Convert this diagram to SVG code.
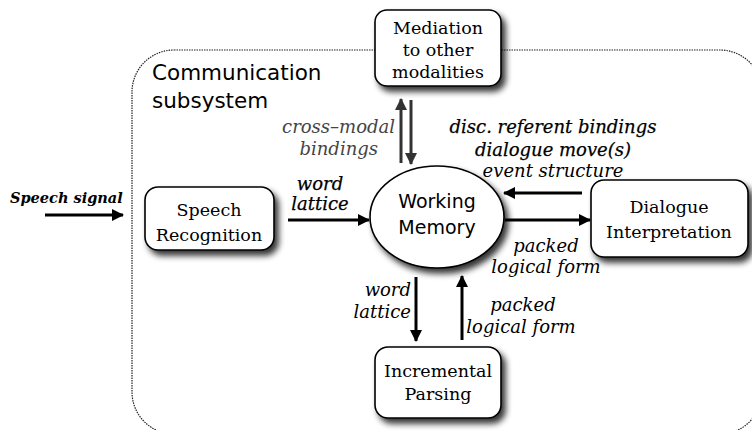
<svg xmlns="http://www.w3.org/2000/svg" width="752" height="430" viewBox="0 0 752 430">
<defs>
<filter id="sh" x="-20%" y="-20%" width="150%" height="150%">
<feGaussianBlur in="SourceAlpha" stdDeviation="3"/>
<feOffset dx="4" dy="5" result="b"/>
<feComponentTransfer><feFuncA type="linear" slope="0.8"/></feComponentTransfer>
<feMerge><feMergeNode/><feMergeNode in="SourceGraphic"/></feMerge>
</filter>
<marker id="ah" viewBox="0 0 12 12" refX="11" refY="6" markerWidth="12" markerHeight="12" markerUnits="userSpaceOnUse" orient="auto">
<path d="M0,0 L12,6 L0,12 z" fill="#000"/>
</marker>
<marker id="ahg" viewBox="0 0 12 12" refX="11" refY="6" markerWidth="12" markerHeight="12" markerUnits="userSpaceOnUse" orient="auto">
<path d="M0,0 L12,6 L0,12 z" fill="#333"/>
</marker>
</defs>
<style>
.box{fill:#fff;stroke:#000;stroke-width:1.6}
.nt{font-family:"DejaVu Serif","Liberation Serif",serif;font-size:17.5px;fill:#000;text-anchor:middle}
.st{font-family:"DejaVu Sans","Liberation Sans",sans-serif;font-size:19px;fill:#000}
.lb{font-family:"DejaVu Serif","Liberation Serif",serif;font-size:18px;font-style:italic;fill:#000}
.sb{stroke:#000;stroke-width:0.25}
.ar{stroke:#000;stroke-width:3;fill:none;marker-end:url(#ah)}
.arg{stroke:#333;stroke-width:3;fill:none;marker-end:url(#ahg)}
</style>
<rect width="752" height="430" fill="#fff"/>
<g id="subsystem">
<rect x="132" y="50" width="630" height="384" rx="42" fill="none" stroke="#222" stroke-width="1.2" stroke-dasharray="1.5 1"/>
<text class="st" x="152" y="80" style="font-size:21.5px">Communication</text>
<text class="st" x="152" y="108" style="font-size:21.5px">subsystem</text>
</g>
<g id="mediation">
<rect class="box" x="375" y="10" width="126" height="76" rx="12" filter="url(#sh)"/>
<text class="nt" x="438" y="34">Mediation</text>
<text class="nt" x="438" y="56">to other</text>
<text class="nt" x="438" y="78">modalities</text>
</g>
<g id="working-memory">
<ellipse cx="437" cy="217" rx="67" ry="51" fill="#fff" stroke="#000" stroke-width="1.6" filter="url(#sh)"/>
<text class="st" x="437" y="208" text-anchor="middle">Working</text>
<text class="st" x="437" y="234" text-anchor="middle">Memory</text>
</g>
<g id="speech-recognition">
<rect class="box" x="145" y="187" width="129" height="63" rx="13" filter="url(#sh)"/>
<text class="nt" x="209" y="216">Speech</text>
<text class="nt" x="209" y="241">Recognition</text>
</g>
<g id="dialogue-interpretation">
<rect class="box" x="591" y="180" width="157" height="77" rx="13" filter="url(#sh)"/>
<text class="nt" x="669" y="213">Dialogue</text>
<text class="nt" x="669" y="238">Interpretation</text>
</g>
<g id="incremental-parsing">
<rect class="box" x="375" y="347" width="126" height="71" rx="13" filter="url(#sh)"/>
<text class="nt" x="438" y="377">Incremental</text>
<text class="nt" x="438" y="400">Parsing</text>
</g>
<g id="connectors">
<line class="ar" x1="45" y1="215" x2="123" y2="215"/>
<line class="ar" x1="288" y1="220" x2="369" y2="220"/>
<line class="arg" x1="401" y1="163" x2="401" y2="99"/>
<line class="arg" x1="411" y1="100" x2="411" y2="164"/>
<line class="ar" x1="582" y1="193" x2="504" y2="193"/>
<line class="ar" x1="505" y1="220" x2="590" y2="220"/>
<line class="ar" x1="416" y1="277" x2="416" y2="341"/>
<line class="ar" x1="462" y1="340" x2="462" y2="276"/>
</g>
<g id="labels">
<text class="lb" x="10" y="203" style="font-weight:bold;font-size:14.5px">Speech signal</text>
<text class="lb sb" x="320" y="190" text-anchor="middle">word</text>
<text class="lb sb" x="320" y="210" text-anchor="middle">lattice</text>
<text class="lb" x="395" y="133" text-anchor="end" style="fill:#444">cross–modal</text>
<text class="lb" x="378" y="155" text-anchor="end" style="fill:#444">bindings</text>
<text class="lb sb" x="553" y="133" text-anchor="middle">disc. referent bindings</text>
<text class="lb sb" x="553" y="156" text-anchor="middle">dialogue move(s)</text>
<text class="lb" x="553" y="177" text-anchor="middle">event structure</text>
<text class="lb" x="546" y="252" text-anchor="middle">packed</text>
<text class="lb" x="546" y="273" text-anchor="middle">logical form</text>
<text class="lb" x="411" y="296" text-anchor="end">word</text>
<text class="lb" x="411" y="318" text-anchor="end">lattice</text>
<text class="lb" x="523" y="311" text-anchor="middle">packed</text>
<text class="lb" x="521" y="333" text-anchor="middle">logical form</text>
</g>
</svg>
